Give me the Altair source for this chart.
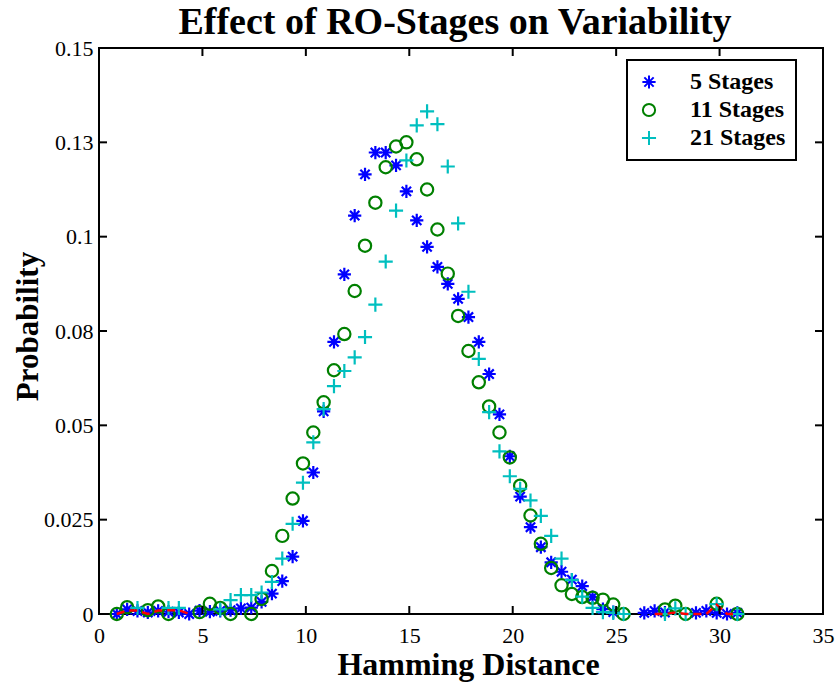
import altair as alt
import pandas as pd

# ---- data ----
x_vals = [0.86, 1.36, 1.86, 2.36, 2.86, 3.36, 3.86, 4.36, 4.86, 5.36,
          5.86, 6.36, 6.86, 7.36, 7.86, 8.36, 8.86, 9.36, 9.86, 10.36,
          10.86, 11.36, 11.86, 12.36, 12.86, 13.36, 13.86, 14.36, 14.86, 15.36,
          15.86, 16.36, 16.86, 17.36, 17.86, 18.36, 18.86, 19.36, 19.86, 20.36,
          20.86, 21.36, 21.86, 22.36, 22.86, 23.36, 23.86, 24.36, 24.86, 25.36,
          25.86, 26.36, 26.86, 27.36, 27.86, 28.36, 28.86, 29.36, 29.86, 30.36,
          30.86]

stages5 = [0.0000, 0.0012, 0.0008, 0.0004, 0.0008, 0.0006, 0.0004, 0.0000, 0.0009, 0.0006,
           0.0008, 0.0010, 0.0015, 0.0017, 0.0032, 0.0054, 0.0087, 0.0152, 0.0247, 0.0375,
           0.0537, 0.0721, 0.0900, 0.1056, 0.1165, 0.1223, 0.1223, 0.1189, 0.1120, 0.1043,
           0.0973, 0.0920, 0.0875, 0.0835, 0.0787, 0.0721, 0.0636, 0.0529, 0.0418, 0.0311,
           0.0230, 0.0177, 0.0137, 0.0112, 0.0091, 0.0074, 0.0045, 0.0013, 0.0005, None,
           None, 0.0003, 0.0008, 0.0004, None, None, 0.0003, 0.0008, 0.0003, 0.0000,
           0.0003]

stages11 = [0.0000, 0.0018, None, 0.0010, 0.0020, 0.0000, None, None, 0.0005, 0.0027,
            0.0016, 0.0000, None, 0.0000, 0.0040, 0.0114, 0.0207, 0.0306, 0.0399, 0.0481,
            0.0561, 0.0646, 0.0742, 0.0856, 0.0976, 0.1090, 0.1184, 0.1239, 0.1250, 0.1205,
            0.1125, 0.1019, 0.0902, 0.0790, 0.0697, 0.0614, 0.0550, 0.0481, 0.0415, 0.0340,
            0.0261, 0.0186, 0.0122, 0.0076, 0.0053, 0.0045, 0.0043, 0.0038, 0.0025, 0.0000,
            None, None, None, 0.0012, 0.0022, 0.0000, None, None, 0.0027, None,
            0.0000]

stages21 = [None, None, 0.0016, None, None, 0.0016, 0.0016, None, None, None,
            0.0012, 0.0037, 0.0050, 0.0050, 0.0057, 0.0085, 0.0147, 0.0239, 0.0348, 0.0455,
            0.0543, 0.0604, 0.0644, 0.0680, 0.0734, 0.0820, 0.0934, 0.1069, 0.1202, 0.1295,
            0.1332, 0.1298, 0.1186, 0.1035, 0.0854, 0.0676, 0.0535, 0.0431, 0.0365, 0.0332,
            0.0301, 0.0260, 0.0207, 0.0147, 0.0090, 0.0046, 0.0016, 0.0005, 0.0003, 0.0000,
            None, None, None, 0.0000, 0.0015, 0.0000, None, None, 0.0026, None,
            0.0000]

# red dashed trace, visible only near the two tails
red_left_x = [0.86, 1.36, 1.86, 2.36, 2.86, 3.36, 3.86, 4.36]
red_left_y = [0.0000, 0.0009, 0.0009, 0.0000, 0.0009, 0.0010, 0.0010, 0.0000]
red_right_x = [26.86, 27.36, 27.86, 28.36, 28.86, 29.36, 29.86, 30.36, 30.86]
red_right_y = [0.0000, 0.0000, 0.0004, 0.0000, 0.0000, 0.0000, 0.0025, 0.0000, 0.0000]

series_names = ["5 Stages", "11 Stages", "21 Stages"]
series_colors = ["#0000ff", "#008000", "#00bfbf"]

x_ticks = [0, 5, 10, 15, 20, 25, 30, 35]
y_ticks = [0, 0.025, 0.05, 0.075, 0.1, 0.125, 0.15]

# ---- tables ----
rows = []
for name, vals in zip(series_names, [stages5, stages11, stages21]):
    for xv, yv in zip(x_vals, vals):
        if yv is not None:
            rows.append({"x": xv, "y": yv, "series": name})
df = pd.DataFrame(rows)

red_rows = [{"x": a, "y": b, "seg": "left"} for a, b in zip(red_left_x, red_left_y)]
red_rows += [{"x": a, "y": b, "seg": "right"} for a, b in zip(red_right_x, red_right_y)]
df_red = pd.DataFrame(red_rows)

df_xt = pd.DataFrame({"x": x_ticks})
df_yt = pd.DataFrame({"y": y_ticks})

W, H = 724, 566
FONT = "Liberation Serif"

star_path = ("M0,-1.08L0,1.08M-1.08,0L1.08,0"
             "M-0.76,-0.76L0.76,0.76M-0.76,0.76L0.76,-0.76")
plus_path = "M-1.15,0L1.15,0M0,-1.15L0,1.15"

xscale = alt.Scale(domain=[0, 35], nice=False, zero=False)
yscale = alt.Scale(domain=[0, 0.15], nice=False, zero=False)

x_axis = alt.Axis(values=x_ticks, format="d", title="Hamming Distance",
                  ticks=False, tickSize=0, domain=False, grid=False,
                  labelPadding=28, labelBaseline="alphabetic",
                  labelFlush=False, labelOverlap=False,
                  titleX=369, titleY=60, titleBaseline="alphabetic",
                  titleAlign="center", titleFontSize=32)
y_axis = alt.Axis(values=y_ticks, format=".3~f", title="Probability",
                  labelExpr="abs(datum.value-0.075)<1e-9 ? '0.08' : "
                            "(abs(datum.value-0.125)<1e-9 ? '0.13' : datum.label)",
                  ticks=False, tickSize=0, domain=False, grid=False,
                  labelPadding=6, labelFlush=False, labelOverlap=False,
                  titleX=-62, titleY=278, titleBaseline="alphabetic",
                  titleAlign="center", titleAngle=-90)

legend = alt.Legend(title=None, orient="none", legendX=528, legendY=12,
                    fillColor="white", strokeColor="black", padding=10,
                    labelFont=FONT, labelFontSize=24, labelFontWeight="bold",
                    labelColor="black", labelOffset=29, rowPadding=4,
                    symbolSize=150, symbolStrokeWidth=2, symbolOffset=0,
                    labelExpr="datum.label + '\u00a0\u00a0\u00a0\u00a0'")

points = alt.Chart(df).mark_point(filled=False, strokeWidth=2.2, size=150, opacity=1).encode(
    x=alt.X("x:Q", scale=xscale, axis=x_axis),
    y=alt.Y("y:Q", scale=yscale, axis=y_axis),
    color=alt.Color("series:N", scale=alt.Scale(domain=series_names, range=series_colors),
                    legend=legend),
    shape=alt.Shape("series:N", scale=alt.Scale(domain=series_names,
                                                range=[star_path, "circle", plus_path]),
                    legend=legend),
)

red = alt.Chart(df_red).mark_line(color="red", strokeDash=[8, 5], strokeWidth=2.5).encode(
    x=alt.X("x:Q"),
    y=alt.Y("y:Q"),
    detail="seg:N",
)

tick_style = dict(color="black", strokeWidth=2)
xt_bottom = alt.Chart(df_xt).mark_rule(**tick_style).encode(
    x=alt.X("x:Q"), y=alt.value(H), y2=alt.value(H - 8))
xt_top = alt.Chart(df_xt).mark_rule(**tick_style).encode(
    x=alt.X("x:Q"), y=alt.value(0), y2=alt.value(8))
yt_left = alt.Chart(df_yt).mark_rule(**tick_style).encode(
    y=alt.Y("y:Q"), x=alt.value(0), x2=alt.value(8))
yt_right = alt.Chart(df_yt).mark_rule(**tick_style).encode(
    y=alt.Y("y:Q"), x=alt.value(W), x2=alt.value(W - 8))

chart = alt.layer(points, red, xt_bottom, xt_top, yt_left, yt_right).properties(
    width=W, height=H,
    padding={"left": 99, "top": 48, "right": 15, "bottom": 68},
    autosize=alt.AutoSizeParams(type="none"),
    title=alt.TitleParams("Effect of RO-Stages on Variability", font=FONT, fontSize=38,
                          fontWeight="bold", color="black", anchor="middle",
                          offset=15, dy=50, dx=-6, baseline="alphabetic"),
    background="white",
).configure_view(
    stroke="black", strokeWidth=2
).configure_axis(
    labelFont=FONT, labelFontSize=22, labelColor="black",
    titleFont=FONT, titleFontSize=31, titleFontWeight="bold", titleColor="black",
).configure_legend(
    strokeWidth=2
)

chart.save("out.html", embed_options={"renderer": "svg", "actions": False})
